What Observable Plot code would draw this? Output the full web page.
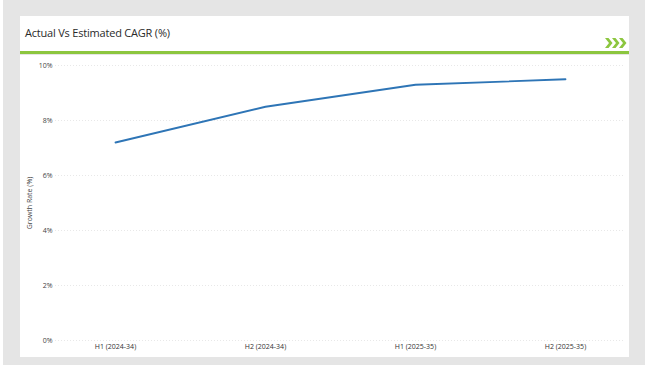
<!DOCTYPE html>
<html>
<head>
<meta charset="utf-8">
<script src="https://cdn.jsdelivr.net/npm/d3@7"></script>
<script src="https://cdn.jsdelivr.net/npm/@observablehq/plot@0.6"></script>
<style>
  html, body { margin: 0; padding: 0; }
  body { width: 650px; height: 365px; background: #fff; position: relative; overflow: hidden; font-family: "Open Sans", "Liberation Sans", sans-serif; }
  #bg { position: absolute; left: 3px; top: 0; width: 642px; height: 365px; background: #e5e5e5; }
  #header { position: absolute; left: 20px; top: 16px; width: 609px; height: 35px; background: #fff; }
  #title { position: absolute; left: 5px; top: 9px; font-size: 11px; color: #2a2a2a; letter-spacing: -0.2px; }
  #chev { position: absolute; left: 585px; top: 22px; }
  #rule { position: absolute; left: 20px; top: 51px; width: 609px; height: 2.5px; background: #8cc63f; }
  #card { position: absolute; left: 20px; top: 55px; width: 609px; height: 302px; background: #fff; }
  #chart { position: absolute; left: 0; top: 0; }
</style>
</head>
<body>
<div id="bg"></div>
<div id="header">
  <div id="title">Actual Vs Estimated CAGR (%)</div>
  <svg id="chev" width="22" height="10" viewBox="0 0 22 10">
    <g fill="#8cc63f">
      <polygon points="0,0 3.5,0 7.5,5 3.5,10 0,10 4,5"/>
      <polygon points="7,0 10.5,0 14.5,5 10.5,10 7,10 11,5"/>
      <polygon points="14,0 17.5,0 21.5,5 17.5,10 14,10 18,5"/>
    </g>
  </svg>
</div>
<div id="rule"></div>
<div id="card"><div id="chart"></div></div>
<script>
const periods = ["H1 (2024-34)", "H2 (2024-34)", "H1 (2025-35)", "H2 (2025-35)"];
const growth = [7.2, 8.5, 9.3, 9.5];
const yTicks = [0, 2, 4, 6, 8, 10];

const data = periods.map((p, i) => ({period: p, value: growth[i]}));

const chart = Plot.plot({
  width: 609,
  height: 302,
  marginTop: 10,
  marginBottom: 17,
  marginLeft: 35,
  marginRight: 4,
  style: {fontFamily: "'Open Sans', 'Liberation Sans', sans-serif", fontSize: "7px", color: "#444", background: "transparent"},
  x: {type: "point", domain: periods, padding: 0.4},
  y: {domain: [0, 10]},
  marks: [
    Plot.ruleY(yTicks, {stroke: "#e2e2e2", strokeWidth: 0.8, strokeDasharray: "1,2"}),
    Plot.axisY({ticks: yTicks, tickSize: 0, tickPadding: 3, tickFormat: d => d + "%", fontSize: 7, fill: "#444",
      label: "Growth Rate (%)", labelAnchor: "center", labelArrow: "none", labelOffset: 28}),
    Plot.axisX({tickSize: 0, tickPadding: 4, fontSize: 7, fill: "#333", label: null}),
    Plot.line(data, {x: "period", y: "value", stroke: "#2e75b6", strokeWidth: 1.8})
  ]
});
document.getElementById("chart").appendChild(chart);
</script>
</body>
</html>
